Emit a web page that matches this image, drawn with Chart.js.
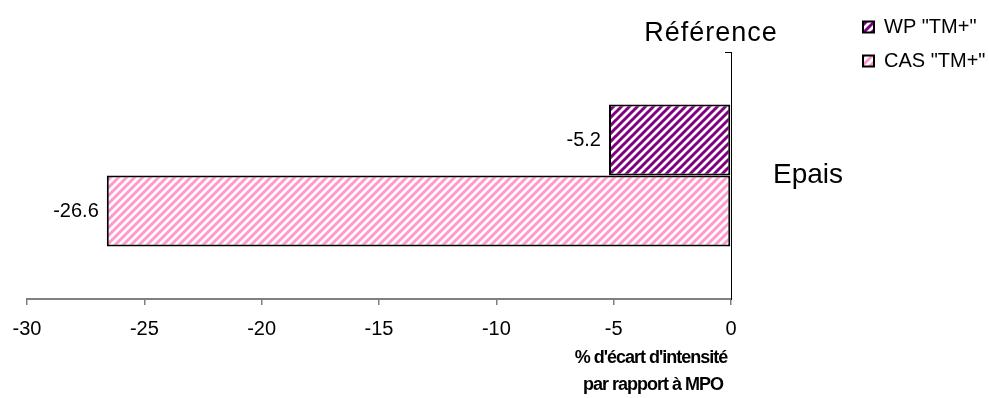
<!DOCTYPE html>
<html>
<head>
<meta charset="utf-8">
<script src="https://cdn.jsdelivr.net/npm/chart.js@4.4.1/dist/chart.umd.min.js"></script>
<style>
  html, body { margin: 0; padding: 0; background: #fff; }
  #wrap { width: 989px; height: 398px; }
</style>
</head>
<body>
<div id="wrap"><canvas id="chart"></canvas></div>
<script>
const categories = ["Epais"];
const seriesNames = ['WP "TM+"', 'CAS "TM+"'];
const wpValues = [-5.2];
const casValues = [-26.6];
const xTicks = [-30, -25, -20, -15, -10, -5, 0];
const axisTitle = ["% d'écart d'intensité", "par rapport à MPO"];
const topLabel = "Référence";

const FONT = "'Liberation Sans', Arial, sans-serif";
const PLOT_RIGHT = 731;

function hatch(color) {
    const c = document.createElement("canvas");
    c.width = 8; c.height = 8;
    const g = c.getContext("2d");
    g.fillStyle = "#fff";
    g.fillRect(0, 0, 8, 8);
    g.strokeStyle = color;
    g.lineWidth = 3;
    g.beginPath();
    g.moveTo(-4, 4); g.lineTo(4, -4);
    g.moveTo(0, 8); g.lineTo(8, 0);
    g.moveTo(4, 12); g.lineTo(12, 4);
    g.stroke();
    return g.createPattern(c, "repeat");
}

const ctx = document.getElementById("chart");

const extras = {
    id: "extras",
    beforeDraw(chart) {
        // legend sits at the top right corner, above the plot
        const lg = chart.legend;
        const dy = lg.top - 3;
        const dx = (863 - lg.options.labels.padding) - lg.left;
        lg.top -= dy; lg.bottom -= dy;
        lg.left += dx; lg.right += dx;
    },
    afterDatasetsDraw(chart) {
        const c = chart.ctx;
        const area = chart.chartArea;
        c.save();
        c.fillStyle = "#000";
        c.font = "20px " + FONT;
        c.textAlign = "right";
        c.textBaseline = "middle";
        chart.data.datasets.forEach((ds, i) => {
            chart.getDatasetMeta(i).data.forEach((bar, j) => {
                c.fillText(ds.data[j].toFixed(1), bar.x - 8, bar.y);
            });
        });
        // small tick at the top of the category axis
        c.strokeStyle = "#000";
        c.lineWidth = 1;
        c.beginPath();
        c.moveTo(area.right - 6, area.top + 0.5);
        c.lineTo(area.right, area.top + 0.5);
        c.stroke();
        c.textAlign = "center";
        c.textBaseline = "alphabetic";
        c.letterSpacing = "1px";
        c.font = "27px " + FONT;
        c.fillText(topLabel, area.right - 20, 41);
        c.letterSpacing = "-1px";
        c.font = "bold 18px " + FONT;
        c.fillText(axisTitle[0], area.right - 80, 363);
        c.fillText(axisTitle[1], area.right - 78, 390);
        c.restore();
    }
};

new Chart(ctx, {
    type: "bar",
    data: {
        labels: categories,
        datasets: [{
            label: seriesNames[0],
            data: wpValues,
            backgroundColor: hatch("#800080"),
            borderColor: "#000",
            borderWidth: 2,
            borderSkipped: false
        }, {
            label: seriesNames[1],
            data: casValues,
            backgroundColor: hatch("#FF99CC"),
            borderColor: "#000",
            borderWidth: 2,
            borderSkipped: false
        }]
    },
    options: {
        indexAxis: "y",
        responsive: true,
        maintainAspectRatio: false,
        animation: false,
        layout: { padding: { left: 27, top: 52, right: 0, bottom: 0 } },
        datasets: { bar: { barPercentage: 1, categoryPercentage: 0.575 } },
        scales: {
            x: {
                min: -30, max: 0,
                afterBuildTicks: (s) => { s.ticks = xTicks.map(v => ({ value: v })); },
                afterFit: (s) => { s.height = 99; },
                grid: { drawOnChartArea: false, color: "#808080", tickLength: 6, lineWidth: 1.5 },
                border: { color: "#808080", width: 2 },
                ticks: { color: "#000", font: { family: FONT, size: 20 }, padding: 12 }
            },
            y: {
                position: "right",
                afterFit: (s) => {
                    s.width = s.chart.width - s.chart.legend.width - PLOT_RIGHT;
                    s.paddingTop = 0;
                    s.paddingBottom = 0;
                },
                grid: { drawOnChartArea: false, drawTicks: false, offset: true },
                border: { color: "#000", width: 1 },
                ticks: { color: "#000", font: { family: FONT, size: 28 }, padding: 42 }
            }
        },
        plugins: {
            legend: {
                position: "right",
                align: "start",
                labels: {
                    color: "#000",
                    font: { family: FONT, size: 20 },
                    boxWidth: 11,
                    boxHeight: 11,
                    padding: 14
                }
            },
            tooltip: { enabled: false }
        }
    },
    plugins: [extras]
});
</script>
</body>
</html>
